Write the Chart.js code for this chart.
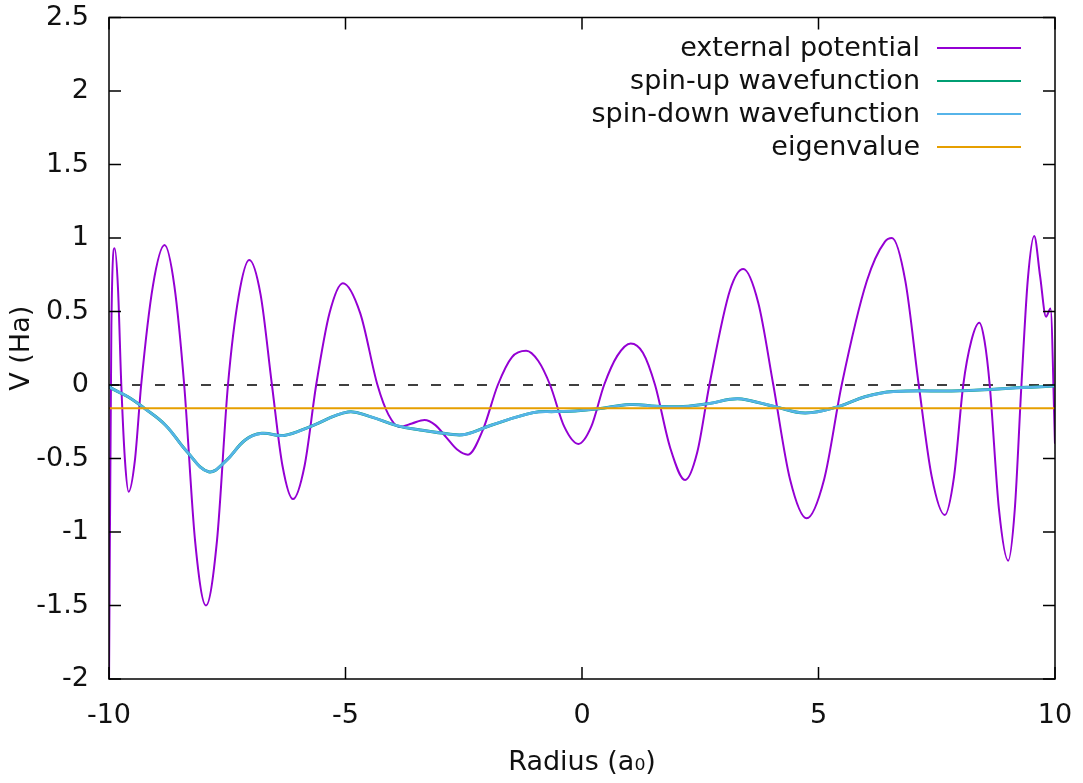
<!DOCTYPE html>
<html>
<head>
<meta charset="utf-8">
<script src="https://cdn.jsdelivr.net/npm/chart.js@4.4.1/dist/chart.umd.min.js"></script>
<style>
  html, body { margin: 0; padding: 0; background: #ffffff; }
  #wrap { width: 1083px; height: 783px; }
</style>
</head>
<body>
<div id="wrap"><canvas id="c" width="1083" height="783"></canvas></div>
<script>
// ---- data (extrema, zero crossings and points in between) ----
const radiusPotential = [
  -10.00, -9.95, -9.88, -9.81, -9.74, -9.6625, -9.585, -9.4525, -9.32, -9.0725,
  -8.825, -8.6175, -8.41, -8.18, -7.95, -7.7175, -7.485, -7.26, -7.035, -6.795,
  -6.555, -6.3325, -6.11, -5.865, -5.62, -5.3375, -5.055, -4.6895, -4.324, -4.092,
  -3.86, -3.595, -3.33, -3.10, -2.87, -2.64, -2.41, -2.095, -1.78, -1.48,
  -1.18, -0.927, -0.674, -0.375, -0.076, 0.1955, 0.467, 0.7485, 1.03, 1.2875,
  1.545, 1.8625, 2.18, 2.4365, 2.693, 3.13, 3.41, 3.7275, 4.045, 4.3975,
  4.75, 5.12, 5.49, 6.0215, 6.405, 6.553, 6.8365, 7.12, 7.395, 7.67,
  7.865, 8.06, 8.23, 8.40, 8.51, 8.62, 8.815, 9.01, 9.15, 9.29,
  9.425, 9.56, 9.685, 9.81, 9.905, 10.00
];
const potential = [
  -2.05, 0.40, 0.93, 0.658, 0.00, -0.513, -0.726, -0.513, 0.00, 0.673,
  0.952, 0.673, 0.00, -1.06, -1.50, -1.06, 0.00, 0.601, 0.85, 0.615,
  0.00, -0.549, -0.776, -0.549, 0.00, 0.489, 0.692, 0.489, 0.00, -0.2015,
  -0.285, -0.2615, -0.238, -0.273, -0.356, -0.439, -0.474, -0.305, 0.00, 0.19,
  0.233, 0.165, 0.00, -0.2835, -0.401, -0.2835, 0.00, 0.200, 0.283, 0.22,
  0.00, -0.425, -0.646, -0.457, 0.00, 0.646, 0.789, 0.558, 0.00, -0.641,
  -0.907, -0.641, 0.00, 0.707, 0.975, 1.00, 0.707, 0.00, -0.625, -0.884,
  -0.625, 0.00, 0.300, 0.424, 0.300, 0.00, -0.845, -1.195, -0.845, 0.00,
  0.717, 1.014, 0.74, 0.465, 0.52, -0.40
];
const radiusWave = [
  -10.00, -9.97, -9.60, -9.27, -8.81, -8.35, -7.895, -7.54, -7.12, -6.77,
  -6.30, -5.745, -4.95, -4.48, -3.90, -3.42, -2.82, -2.47, -1.906, -1.03,
  -0.568, -0.146, 0.35, 1.02, 1.58, 2.14, 2.707, 3.13, 3.377, 4.08,
  4.72, 5.42, 5.98, 6.58, 7.99, 9.40, 9.96, 10.00
];
const spinUp = [
  0.00, -0.018, -0.08, -0.154, -0.272, -0.454, -0.59, -0.52, -0.374, -0.329,
  -0.343, -0.283, -0.184, -0.215, -0.278, -0.306, -0.333, -0.336, -0.272, -0.188,
  -0.181, -0.177, -0.162, -0.133, -0.145, -0.147, -0.125, -0.097, -0.095, -0.147,
  -0.19, -0.147, -0.08, -0.045, -0.039, -0.016, -0.007, 0.00
];
const spinDown = [
  0.00, -0.018, -0.08, -0.154, -0.272, -0.454, -0.59, -0.52, -0.374, -0.329,
  -0.343, -0.283, -0.184, -0.215, -0.278, -0.306, -0.333, -0.336, -0.272, -0.188,
  -0.181, -0.177, -0.162, -0.133, -0.145, -0.147, -0.125, -0.097, -0.095, -0.147,
  -0.19, -0.147, -0.08, -0.045, -0.039, -0.016, -0.007, 0.00
];
const radiusEigen = [-10, 10];
const eigenvalue = [-0.158, -0.158];
const radiusZero = [-10, 10];
const zeroAxis = [0, 0];

const seriesLabels = ['external potential', 'spin-up wavefunction', 'spin-down wavefunction', 'eigenvalue'];
const xTickValues = [-10, -5, 0, 5, 10];
const xTickLabels = ['-10', '-5', '0', '5', '10'];
const yTickValues = [-2, -1.5, -1, -0.5, 0, 0.5, 1, 1.5, 2, 2.5];
const yTickLabels = ['-2', '-1.5', '-1', '-0.5', '0', '0.5', '1', '1.5', '2', '2.5'];
const xTitle = 'Radius (a\u2080)';
const yTitle = 'V (Ha)';

// ---- helpers ----
const pts = (xs, ys) => xs.map((x, i) => ({ x: x, y: ys[i] }));
const FONT = "'DejaVu Sans', sans-serif";
const FS = 27;

const frame = {
  id: 'frame',
  afterDatasetsDraw(chart) {
    const { ctx, chartArea: a, scales: { x, y } } = chart;
    ctx.save();
    ctx.strokeStyle = '#000';
    ctx.lineWidth = 1.5;
    ctx.beginPath();
    const L = 12;
    x.ticks.forEach(t => {
      const px = x.getPixelForValue(t.value);
      ctx.moveTo(px, a.bottom); ctx.lineTo(px, a.bottom - L);
      ctx.moveTo(px, a.top); ctx.lineTo(px, a.top + L);
    });
    y.ticks.forEach(t => {
      const py = y.getPixelForValue(t.value);
      ctx.moveTo(a.left, py); ctx.lineTo(a.left + L, py);
      ctx.moveTo(a.right, py); ctx.lineTo(a.right - L, py);
    });
    ctx.stroke();
    ctx.strokeRect(a.left, a.top, a.right - a.left, a.bottom - a.top);
    ctx.restore();
  },
  afterDraw(chart) {
    const { ctx, chartArea: a } = chart;
    ctx.save();
    ctx.font = FS + 'px ' + FONT;
    ctx.textAlign = 'right';
    ctx.textBaseline = 'middle';
    const items = chart.data.datasets.filter(d => d.inLegend);
    items.forEach((d, i) => {
      const yy = a.top + 30.5 + 33 * i;
      const x1 = a.right - 34, x0 = x1 - 84;
      ctx.fillStyle = '#111';
      ctx.fillText(d.label, x0 - 17, yy + 1);
      ctx.strokeStyle = d.borderColor;
      ctx.lineWidth = 2;
      ctx.beginPath(); ctx.moveTo(x0, yy); ctx.lineTo(x1, yy); ctx.stroke();
    });
    ctx.restore();
  }
};

new Chart(document.getElementById('c'), {
  type: 'line',
  data: {
    datasets: [
      { label: '', data: pts(radiusZero, zeroAxis), borderColor: '#000', borderWidth: 1.5,
        borderDash: [10, 13], pointRadius: 0, order: 6, inLegend: false },
      { label: seriesLabels[0], data: pts(radiusPotential, potential), borderColor: '#9400d3',
        borderWidth: 2, pointRadius: 0, cubicInterpolationMode: 'monotone', order: 5, inLegend: true },
      { label: seriesLabels[1], data: pts(radiusWave, spinUp), borderColor: '#009e73',
        borderWidth: 3, pointRadius: 0, tension: 0.4, order: 4, inLegend: true },
      { label: seriesLabels[2], data: pts(radiusWave, spinDown), borderColor: '#56b4e9',
        borderWidth: 2.6, pointRadius: 0, tension: 0.4, order: 3, inLegend: true },
      { label: seriesLabels[3], data: pts(radiusEigen, eigenvalue), borderColor: '#e69f00',
        borderWidth: 2, pointRadius: 0, order: 2, inLegend: true }
    ]
  },
  options: {
    responsive: false,
    animation: false,
    devicePixelRatio: 1,
    layout: { padding: { top: 17.5, right: 28, left: 0, bottom: 0 } },
    plugins: { legend: { display: false }, tooltip: { enabled: false } },
    scales: {
      x: {
        type: 'linear', min: -10, max: 10,
        afterBuildTicks: s => { s.ticks = xTickValues.map(v => ({ value: v })); },
        afterFit: s => { s.height = 104; s.paddingLeft = 0; s.paddingRight = 0; },
        grid: { display: false, drawTicks: false },
        border: { display: false },
        ticks: {
          autoSkip: false, maxRotation: 0, padding: 21, color: '#111',
          font: { family: FONT, size: FS },
          callback: v => xTickLabels[xTickValues.indexOf(v)]
        },
        title: { display: true, text: xTitle, color: '#111',
          font: { family: FONT, size: FS }, padding: { top: 0, bottom: 3.8 } }
      },
      y: {
        type: 'linear', min: -2, max: 2.5,
        afterBuildTicks: s => { s.ticks = yTickValues.map(v => ({ value: v })); },
        afterFit: s => { s.width = 109; s.paddingTop = 0; s.paddingBottom = 0; },
        grid: { display: false, drawTicks: false },
        border: { display: false },
        ticks: {
          autoSkip: false, padding: 20, color: '#111',
          font: { family: FONT, size: FS },
          callback: v => yTickLabels[yTickValues.indexOf(v)]
        },
        title: { display: true, text: yTitle, color: '#111',
          font: { family: FONT, size: FS }, padding: { top: 5.8, bottom: 0 } }
      }
    }
  },
  plugins: [frame]
});
</script>
</body>
</html>
